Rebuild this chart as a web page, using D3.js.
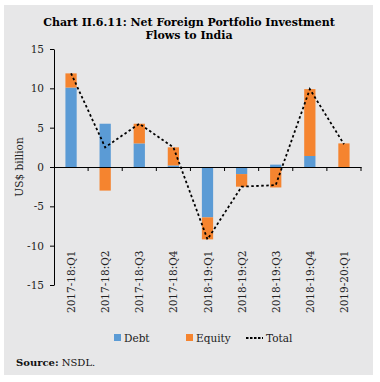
<!DOCTYPE html>
<html><head><meta charset="utf-8">
<script src="https://cdn.jsdelivr.net/npm/d3@7"></script>
<style>
body{margin:0;background:#fff;}
svg{display:block;font-family:"DejaVu Serif","Liberation Serif",serif;}
</style></head>
<body>
<svg id="c" width="380" height="382"></svg>
<script>
const categories = ["2017-18:Q1","2017-18:Q2","2017-18:Q3","2017-18:Q4","2018-19:Q1","2018-19:Q2","2018-19:Q3","2018-19:Q4","2019-20:Q1"];
const debt   = [10.1, 5.5, 3.0, 0.2, -6.4, -0.9, 0.3, 1.4, -0.1];
const equity = [1.8, -3.0, 2.5, 2.3, -2.8, -1.6, -2.6, 8.5, 3.0];
const total  = [11.9, 2.5, 5.5, 2.5, -9.2, -2.5, -2.3, 9.9, 2.9];
const yTicks = [-15, -10, -5, 0, 5, 10, 15];
const colors = {Debt:"#5b9bd5", Equity:"#f5842f"};

const svg = d3.select("#c");
svg.append("rect").attr("x",4).attr("y",5).attr("width",369).attr("height",370).attr("fill","#e7e7e8");

svg.append("text").attr("x",189).attr("y",26).attr("text-anchor","middle")
  .attr("font-size",11).attr("font-weight","bold").text("Chart II.6.11: Net Foreign Portfolio Investment");
svg.append("text").attr("x",189).attr("y",39).attr("text-anchor","middle")
  .attr("font-size",11).attr("font-weight","bold").text("Flows to India");

const x = d3.scaleBand().domain(categories).range([54, 361]).paddingInner(0.67).paddingOuter(0.335);
const xb = d3.scaleBand().domain(categories).range([54, 361]);
const y = d3.scaleLinear().domain([-15, 15]).range([285, 49]);

const rows = categories.map((c,i)=>({cat:c, Debt:debt[i], Equity:equity[i]}));
const stack = d3.stack().keys(["Debt","Equity"]).offset(d3.stackOffsetDiverging)(rows);

const g = svg.append("g");
stack.forEach(s=>{
  g.selectAll(null).data(s).enter().append("rect")
    .attr("x", d=>x(d.data.cat))
    .attr("width", x.bandwidth())
    .attr("y", d=>y(Math.max(d[0],d[1])))
    .attr("height", d=>Math.abs(y(d[0])-y(d[1])))
    .attr("fill", colors[s.key]);
});

// y axis
const ya = svg.append("g").attr("transform","translate(54,0)")
  .call(d3.axisLeft(y).tickValues(yTicks).tickFormat(d=>String(d)).tickSize(4).tickPadding(6).tickSizeOuter(0));
ya.select(".domain").attr("stroke","#000");
ya.selectAll("text").attr("font-size",10.5).attr("fill","#222").attr("font-family","DejaVu Serif, serif");

// x axis at zero
const xa = svg.append("g").attr("transform",`translate(0,${y(0)})`)
  .call(d3.axisBottom(xb).tickSize(0).tickFormat(""));
xa.select(".domain").attr("stroke","#000").attr("stroke-width",1.2);
xa.selectAll(".tick").remove();
const bounds = categories.map(c=>xb(c)+xb.bandwidth());
svg.append("g").selectAll("line").data(bounds).enter().append("line")
  .attr("x1",d=>d).attr("x2",d=>d).attr("y1",y(0)).attr("y2",y(0)+4).attr("stroke","#000");

// x labels
svg.append("g").selectAll("text").data(categories).enter().append("text")
  .attr("transform", d=>`translate(${xb(d)+xb.bandwidth()/2+4},313) rotate(-90)`)
  .attr("font-size",10.5).attr("fill","#222").text(d=>d);

// total line
const line = d3.line().x((d,i)=>xb(categories[i])+xb.bandwidth()/2).y(d=>y(d));
svg.append("path").datum(total).attr("d",line).attr("fill","none")
  .attr("stroke","#000").attr("stroke-width",1.8).attr("stroke-dasharray","2.5,2.5");

// y title
svg.append("text").attr("transform",`translate(23,${y(0)}) rotate(-90)`).attr("text-anchor","middle")
  .attr("font-size",10.5).attr("fill","#222").text("US$ billion");

// legend
const lg = svg.append("g").attr("font-size",10.5).attr("fill","#222");
lg.append("rect").attr("x",114).attr("y",334).attr("width",7).attr("height",7).attr("fill",colors.Debt);
lg.append("text").attr("x",124).attr("y",342).text("Debt");
lg.append("rect").attr("x",186).attr("y",334).attr("width",7).attr("height",7).attr("fill",colors.Equity);
lg.append("text").attr("x",196).attr("y",342).text("Equity");
lg.append("line").attr("x1",246).attr("x2",263).attr("y1",338).attr("y2",338)
  .attr("stroke","#000").attr("stroke-width",1.8).attr("stroke-dasharray","2.5,1.5");
lg.append("text").attr("x",266).attr("y",342).text("Total");

const src = svg.append("text").attr("x",16).attr("y",366).attr("font-size",10).attr("fill","#111");
src.append("tspan").attr("font-weight","bold").text("Source:");
src.append("tspan").text(" NSDL.");
</script>
</body></html>
